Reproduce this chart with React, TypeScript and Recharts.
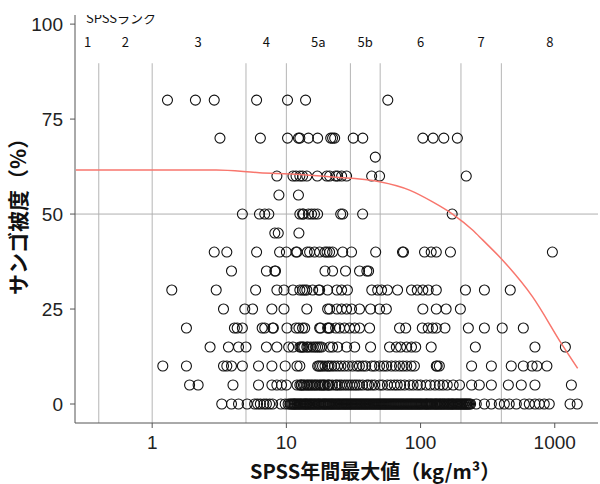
import { ComposedChart, Scatter, XAxis, YAxis, ReferenceLine } from "recharts"

// SPSS annual max (kg/m3) of each site, grouped by coral cover (%)
const spss80 = [1.3, 2.1, 2.9, 6.0, 10.2, 13.9, 57]
const spss70 = [3.2, 6.4, 10.2, 12.3, 12.6, 14.6, 17.1, 21.4, 22.1, 22.9, 31.5, 37.1, 104, 124, 149, 188]
const spss65 = [46]
const spss60 = [8.5, 11.2, 11.8, 12.6, 13.2, 14.2, 17.0, 20.0, 21.0, 23.3, 24.1, 25.8, 28.1, 43.2, 49.5, 219]
const spss55 = [8.8, 12.3]
const spss50 = [4.7, 6.3, 6.9, 7.4, 12.6, 13.2, 13.4, 14.6, 15.4, 16.2, 17.1, 25.4, 26.3, 37.0, 172]
const spss45 = [8.2, 8.7, 12.4]
const spss40 = [2.9, 3.6, 6.0, 8.9, 10.0, 11.8, 12.0, 14.3, 14.9, 16.2, 17.7, 19.4, 20.1, 21.0, 22.1, 26.3, 30.6, 46.3, 73.3, 74.6, 107, 120, 131, 167, 960]
const spss35 = [3.9, 7.1, 8.2, 8.3, 19.4, 22.1, 27.6, 35.1, 39.8, 41.0]
const spss30 = [1.4, 3.0, 5.9, 8.5, 9.6, 11.2, 12.6, 13.2, 13.7, 14.2, 15.7, 17.4, 17.7, 20.3, 23.8, 25.8, 28.5, 43.3, 47.9, 51.2, 56.7, 67.4, 85.6, 94.5, 104, 114, 131, 216, 299, 466]
const spss25 = [3.4, 4.9, 5.6, 7.8, 9.6, 14.2, 20.3, 21.0, 23.8, 25.8, 28.1, 30.6, 35.1, 42.4, 49.5, 55.6, 104, 131, 155, 198]
const spss20 = [1.8, 4.1, 4.3, 4.7, 6.6, 6.9, 7.9, 8.0, 10.1, 11.8, 12.4, 13.2, 13.7, 17.7, 18.0, 20.3, 20.6, 21.0, 23.3, 24.9, 27.1, 29.6, 32.3, 35.1, 41.7, 69.7, 77.5, 103, 114, 123, 131, 152, 227, 299, 406, 583]
const spss15 = [
  2.7, 3.7, 4.4, 5.0, 7.1, 8.5, 10.4, 11.2, 12.6, 12.9, 13.2, 13.5, 14.2, 14.5, 15.2, 15.9, 16.5, 17.1, 17.7, 18.3,
  21.0, 22.1, 24.1, 28.1, 32.3, 42.4, 58.7, 66.0, 71.0, 78.8, 85.6, 92.0, 120, 256, 712, 1200,
]
const spss10 = [
  1.2, 1.8, 3.4, 3.6, 3.9, 4.7, 6.2, 7.8, 9.8, 12.0, 12.6, 17.1, 17.5, 18.0, 18.6, 19.4, 20.3, 20.8, 21.7, 22.8,
  24.1, 25.5, 27.1, 28.9, 31.1, 33.5, 35.0, 37.1, 39.0, 43.3, 45.5, 49.5, 53.0, 56.0, 60.7, 65.0, 69.7, 74.0,
  78.8, 85.0, 90.0, 131, 133, 138, 240, 337, 474, 583, 678, 736, 874,
]
const spss5 = [
  1.9, 2.2, 4.0, 6.2, 7.8, 8.5, 9.2, 10.0, 12.0, 12.6, 12.9, 13.0, 13.4, 13.7, 14.2, 14.5, 14.9, 15.3, 15.7,
  16.2, 16.6, 17.1, 17.7, 18.1, 18.6, 19.0, 19.4, 20.3, 20.6, 21.0, 22.0, 23.3, 23.9, 24.9, 25.8, 27.1, 28.3,
  29.6, 30.9, 32.3, 33.6, 35.1, 37.0, 39.8, 41.0, 43.3, 45.5, 49.5, 52.0, 56.6, 60.0, 63.7, 67.0, 71.0, 76.0,
  82.7, 88.0, 94.5, 100, 110, 118, 128, 138, 147, 158, 175, 195, 240, 274, 337, 451, 563, 712, 1330,
]
const spss0 = [
  3.3, 3.9, 4.4, 5.1, 5.8, 6.1, 6.4, 6.8, 7.1, 7.5, 7.9, 9.1, 9.8, 10.3, 10.6, 10.8, 11.0, 11.2, 11.4, 11.5,
  11.7, 11.9, 12.1, 12.3, 12.5, 12.7, 12.9, 13.1, 13.4, 13.6, 13.8, 14.0, 14.2, 14.4, 14.7, 14.9, 15.1, 15.4,
  15.6, 15.9, 16.2, 16.4, 16.7, 17.0, 17.3, 17.5, 17.8, 18.1, 18.5, 18.8, 19.1, 19.4, 19.7, 20.0, 20.4, 20.7,
  21.1, 21.4, 21.8, 22.1, 22.5, 22.9, 23.3, 23.7, 24.1, 24.5, 24.9, 25.3, 25.8, 26.2, 26.7, 27.1, 27.6, 28.0,
  28.5, 29.0, 29.5, 30.0, 30.5, 31.0, 31.6, 32.1, 32.7, 33.2, 33.8, 34.4, 35.0, 35.6, 36.2, 36.8, 37.5, 38.1,
  38.8, 39.4, 40.1, 40.8, 41.5, 42.2, 43.0, 43.7, 44.5, 45.2, 46.0, 46.8, 47.6, 48.4, 49.2, 50.0, 50.9, 51.8,
  52.7, 53.6, 54.5, 55.4, 56.4, 57.4, 58.4, 59.4, 60.4, 61.4, 62.5, 63.5, 64.6, 65.7, 66.8, 68.0, 69.1, 70.3,
  71.5, 72.7, 74.0, 75.2, 76.6, 77.9, 79.2, 80.6, 82.0, 83.4, 84.8, 86.2, 87.7, 89.2, 90.8, 92.3, 93.9, 95.5,
  97.2, 98.8, 100.5, 102, 104, 106, 108, 110, 111, 113, 115, 117, 119, 121, 123, 126, 128, 130, 132, 134,
  137, 139, 141, 144, 146, 149, 151, 154, 157, 160, 162, 165, 168, 171, 173, 176, 179, 183, 186, 189, 192,
  196, 199, 203, 206, 210, 213, 217, 220, 224, 228, 232, 236, 260, 299, 337, 386, 421, 458, 517, 594, 646,
  712, 767, 835, 910, 1300, 1470,
]

const coverRows: [number, number[]][] = [
  [80, spss80], [70, spss70], [65, spss65], [60, spss60], [55, spss55], [50, spss50],
  [45, spss45], [40, spss40], [35, spss35], [30, spss30], [25, spss25], [20, spss20],
  [15, spss15], [10, spss10], [5, spss5], [0, spss0],
]

// fitted curve
const curveX = [0.27, 3, 6.3, 12.6, 21, 49.5, 82.7, 123, 173, 244, 290, 398, 684, 1140, 1480]
const curveY = [61.6, 61.6, 60.9, 60.4, 59.8, 58.5, 56.3, 53.2, 50.0, 45.8, 43.2, 38.3, 28.2, 15.5, 9.4]

// SPSS rank boundaries and labels
const rankBreaks = [0.4, 1, 5, 10, 30, 50, 200, 400]
const rankNames = ["1", "2", "3", "4", "5a", "5b", "6", "7", "8"]
const rankCenters = [0.33, 0.63, 2.2, 7.1, 17.3, 38.7, 100, 283, 920]

const xTicks = [1, 10, 100, 1000]
const yTicks = [0, 25, 50, 75, 100]

const points = coverRows.flatMap(([y, xs]) => xs.map((x) => ({ x, y })))
const curve = curveX.map((x, i) => ({ x, y: curveY[i] }))
const rankLabels = rankCenters.map((x, i) => ({ x, y: 95.5, name: rankNames[i] }))
const rankTitle = [{ x: 0.321, y: 101.8, name: "SPSSランク" }]

const tickStyle = { fontFamily: "Liberation Sans, Arial, sans-serif", fontSize: 19, fill: "#222" }
const jpFont = "'Noto Sans CJK JP', 'Noto Sans', sans-serif"

const OpenCircle = (props: any) => (
  <circle cx={props.cx} cy={props.cy} r={5} fill="none" stroke="#111" strokeWidth={1.1} />
)

const RankText = (props: any) => (
  <text
    x={props.cx}
    y={props.cy}
    textAnchor={props.payload.name.length > 2 ? "start" : "middle"}
    dominantBaseline="central"
    fontFamily={jpFont}
    fontSize={13}
    fill="#111"
  >
    {props.payload.name}
  </text>
)

export default function App() {
  return (
    <div style={{ position: "absolute", left: 0, top: 0, width: 600, height: 484, background: "#fff" }}>
      <ComposedChart width={600} height={484} margin={{ top: 15, right: 2, bottom: 0, left: 0 }}>
        <XAxis
          dataKey="x"
          type="number"
          scale="log"
          domain={[0.266, 2100]}
          allowDataOverflow
          ticks={xTicks}
          tickFormatter={(v) => String(v)}
          height={61}
          tickSize={5}
          tickMargin={8}
          tick={tickStyle}
          stroke="#555"
        />
        <YAxis
          dataKey="y"
          type="number"
          domain={[-5, 102.4]}
          allowDataOverflow
          ticks={yTicks}
          width={75}
          tickSize={5}
          tickMargin={7}
          tick={tickStyle}
          stroke="#555"
        />
        {rankBreaks.map((b) => (
          <ReferenceLine
            key={b}
            segment={[{ x: b, y: -5 }, { x: b, y: 89.7 }]}
            stroke="#b5b5b5"
            strokeWidth={1}
          />
        ))}
        <ReferenceLine y={50} stroke="#b0b0b0" strokeWidth={1} />
        <Scatter data={points} shape={OpenCircle} isAnimationActive={false} />
        <Scatter
          data={curve}
          line={{ stroke: "#F8766D", strokeWidth: 1.5 }}
          lineJointType="monotoneX"
          shape={() => <g />}
          isAnimationActive={false}
        />
        <Scatter data={rankLabels} shape={RankText} isAnimationActive={false} />
        <Scatter data={rankTitle} shape={RankText} isAnimationActive={false} />
      </ComposedChart>
      <svg width={600} height={484} style={{ position: "absolute", left: 0, top: 0, pointerEvents: "none" }}>
        <text x={250} y={479} fontFamily={jpFont} fontWeight="bold" fontSize={20} fill="#111">
          SPSS年間最大値（kg/m³）
        </text>
        <text
          x={17}
          y={295}
          transform="rotate(-90 17 295)"
          dominantBaseline="central"
          fontFamily={jpFont}
          fontWeight="bold"
          fontSize={21}
          fill="#111"
        >
          サンゴ被度（%）
        </text>
      </svg>
    </div>
  )
}
